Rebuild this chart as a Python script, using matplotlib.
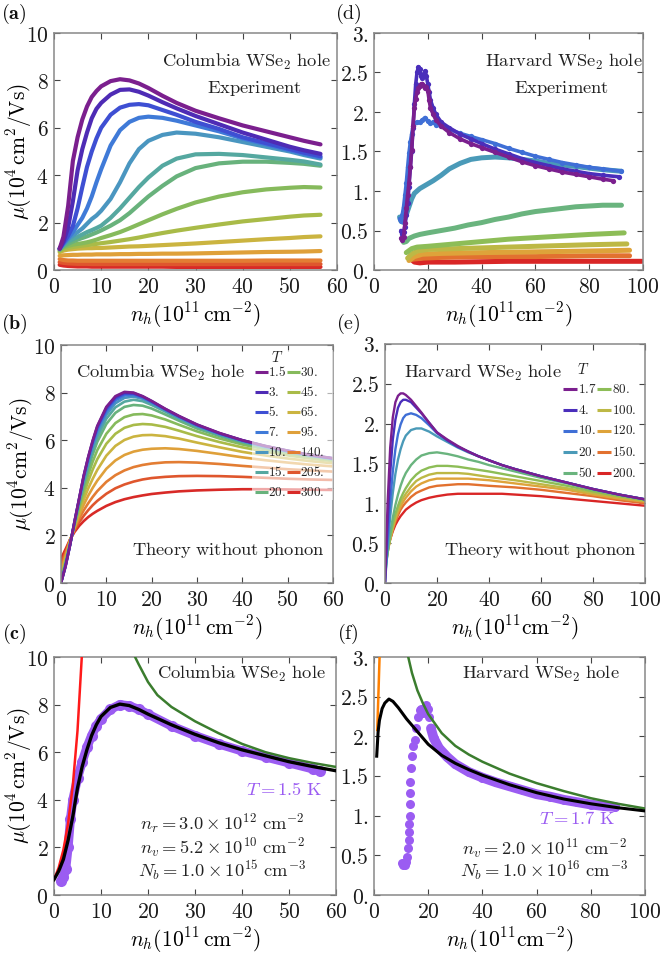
import matplotlib
matplotlib.use("Agg")
import matplotlib.pyplot as plt
from matplotlib.patches import Rectangle

plt.rcParams["mathtext.fontset"] = "cm"
plt.rcParams["font.family"] = ["DejaVu Serif"]

W, H = 662, 963

# ------------------------------------------------------------------ colours
col_T = ["1.5", "3.", "5.", "7.", "10.", "15.", "20.", "30.", "45.", "65.", "95.", "140.", "205.", "300."]
col_colors = ["#7b1f8e", "#4e2bb5", "#3e4fd3", "#3f7ad8", "#4a96c0", "#55a8a0", "#68b27c",
              "#86ba5c", "#a9bb48", "#cbb440", "#dfa03a", "#e37d33", "#df562d", "#d82a27"]
har_T = ["1.7", "4.", "10.", "20.", "50.", "80.", "100.", "120.", "150.", "200."]
har_colors = ["#7b1f8e", "#4a2ebb", "#3f6fd6", "#4a9ab8", "#6ab47e", "#8dbd57", "#bdb845",
              "#dea33a", "#e2712f", "#d92626"]

# ------------------------------------------------------------------ (a) Columbia experiment
n_a = [1.2, 2, 3, 4, 5, 6, 7, 8, 9, 10, 12, 14, 16, 18, 20, 23, 26, 30, 35, 40, 45, 50, 53, 56.5]
a_T1p5 = [0.9, 1.4, 2.7, 4.6, 5.6, 6.35, 6.9, 7.3, 7.55, 7.75, 7.97, 8.05, 8.0, 7.87, 7.68, 7.35, 7.05, 6.72, 6.4, 6.1, 5.85, 5.6, 5.45, 5.3]
a_T3 = [0.9, 1.2, 1.8, 2.9, 4.2, 5.1, 5.8, 6.4, 6.8, 7.05, 7.4, 7.6, 7.62, 7.52, 7.36, 7.08, 6.82, 6.5, 6.15, 5.8, 5.5, 5.2, 5.05, 4.9]
a_T5 = [0.9, 1.15, 1.45, 1.85, 2.6, 3.5, 4.35, 5.0, 5.55, 6.0, 6.55, 6.85, 6.97, 7.0, 6.95, 6.75, 6.55, 6.25, 5.95, 5.6, 5.35, 5.1, 4.95, 4.8]
a_T7 = [0.9, 1.1, 1.35, 1.6, 1.9, 2.2, 2.6, 3.1, 3.7, 4.25, 5.25, 5.9, 6.25, 6.42, 6.47, 6.42, 6.3, 6.1, 5.85, 5.55, 5.3, 5.05, 4.9, 4.75]
a_T10 = [0.9, 1.1, 1.3, 1.45, 1.6, 1.75, 1.95, 2.15, 2.3, 2.5, 3.0, 3.7, 4.5, 5.1, 5.45, 5.7, 5.8, 5.75, 5.6, 5.4, 5.2, 5.0, 4.85, 4.7]
a_T15 = [0.9, 1.05, 1.2, 1.3, 1.4, 1.5, 1.6, 1.68, 1.77, 1.87, 2.2, 2.6, 3.05, 3.5, 3.9, 4.4, 4.7, 4.88, 4.9, 4.85, 4.75, 4.65, 4.58, 4.45]
a_T20 = [0.85, 1.0, 1.1, 1.2, 1.28, 1.35, 1.42, 1.5, 1.58, 1.67, 1.87, 2.1, 2.4, 2.75, 3.1, 3.55, 3.95, 4.3, 4.5, 4.57, 4.57, 4.52, 4.48, 4.4]
a_T30 = [0.85, 0.95, 1.02, 1.07, 1.1, 1.13, 1.17, 1.22, 1.28, 1.35, 1.47, 1.6, 1.76, 1.93, 2.1, 2.35, 2.58, 2.85, 3.1, 3.28, 3.4, 3.47, 3.5, 3.48]
a_T45 = [0.8, 0.88, 0.93, 0.97, 1.0, 1.03, 1.05, 1.08, 1.1, 1.13, 1.18, 1.24, 1.3, 1.37, 1.45, 1.56, 1.66, 1.78, 1.92, 2.05, 2.15, 2.25, 2.3, 2.33]
a_T65 = [0.75, 0.82, 0.86, 0.88, 0.9, 0.91, 0.92, 0.92, 0.93, 0.93, 0.95, 0.97, 0.99, 1.0, 1.02, 1.05, 1.08, 1.12, 1.18, 1.24, 1.3, 1.35, 1.39, 1.42]
a_T95 = [0.6, 0.62, 0.63, 0.64, 0.64, 0.65, 0.65, 0.65, 0.66, 0.66, 0.66, 0.67, 0.67, 0.68, 0.68, 0.69, 0.69, 0.7, 0.72, 0.74, 0.76, 0.77, 0.78, 0.8]
a_T140 = [0.46, 0.42, 0.4, 0.4, 0.39, 0.39, 0.39, 0.39, 0.39, 0.39, 0.39, 0.39, 0.39, 0.39, 0.39, 0.39, 0.39, 0.39, 0.39, 0.39, 0.4, 0.4, 0.4, 0.4]
a_T205 = [0.33, 0.3, 0.28, 0.27, 0.26, 0.26, 0.26, 0.25, 0.25, 0.25, 0.25, 0.25, 0.25, 0.25, 0.25, 0.25, 0.25, 0.25, 0.25, 0.25, 0.25, 0.25, 0.25, 0.25]
a_T300 = [0.22, 0.19, 0.17, 0.16, 0.15, 0.15, 0.15, 0.14, 0.14, 0.14, 0.14, 0.14, 0.14, 0.14, 0.14, 0.14, 0.13, 0.13, 0.13, 0.13, 0.13, 0.13, 0.13, 0.13]
mu_a = [a_T1p5, a_T3, a_T5, a_T7, a_T10, a_T15, a_T20, a_T30, a_T45, a_T65, a_T95, a_T140, a_T205, a_T300]

# ------------------------------------------------------------------ (b) Columbia theory
n_b = [0, 1, 2, 3, 4, 5, 6, 7, 8, 10, 12, 14, 16, 18, 20, 23, 26, 30, 35, 40, 45, 50, 55, 60]
b_T1p5 = [0.0, 0.7, 1.6, 2.6, 3.55, 4.5, 5.3, 6.0, 6.6, 7.4, 7.85, 8.03, 8.0, 7.85, 7.65, 7.32, 7.02, 6.66, 6.3, 6.0, 5.76, 5.56, 5.38, 5.24]
b_T3 = [0.0, 0.7, 1.6, 2.6, 3.55, 4.5, 5.28, 5.97, 6.57, 7.37, 7.82, 8.0, 7.98, 7.84, 7.64, 7.31, 7.01, 6.65, 6.29, 6.0, 5.76, 5.56, 5.38, 5.24]
b_T5 = [0.0, 0.7, 1.6, 2.6, 3.53, 4.47, 5.25, 5.93, 6.52, 7.3, 7.76, 7.95, 7.95, 7.82, 7.62, 7.3, 7.0, 6.64, 6.28, 5.99, 5.75, 5.55, 5.37, 5.23]
b_T7 = [0.0, 0.72, 1.6, 2.58, 3.5, 4.42, 5.18, 5.85, 6.43, 7.2, 7.67, 7.88, 7.9, 7.79, 7.6, 7.28, 6.98, 6.62, 6.27, 5.98, 5.74, 5.54, 5.37, 5.23]
b_T10 = [0.0, 0.75, 1.62, 2.55, 3.45, 4.33, 5.08, 5.73, 6.3, 7.07, 7.55, 7.78, 7.83, 7.74, 7.56, 7.25, 6.95, 6.6, 6.25, 5.96, 5.73, 5.53, 5.36, 5.22]
b_T15 = [0.02, 0.78, 1.63, 2.53, 3.4, 4.22, 4.95, 5.58, 6.13, 6.9, 7.38, 7.62, 7.7, 7.64, 7.48, 7.2, 6.91, 6.56, 6.22, 5.94, 5.71, 5.52, 5.35, 5.21]
b_T20 = [0.05, 0.8, 1.65, 2.5, 3.32, 4.1, 4.8, 5.4, 5.93, 6.68, 7.15, 7.4, 7.48, 7.45, 7.33, 7.08, 6.82, 6.49, 6.17, 5.9, 5.68, 5.5, 5.33, 5.2]
b_T30 = [0.1, 0.85, 1.68, 2.47, 3.22, 3.92, 4.55, 5.1, 5.58, 6.27, 6.72, 6.97, 7.08, 7.1, 7.04, 6.87, 6.65, 6.37, 6.07, 5.82, 5.62, 5.44, 5.29, 5.17]
b_T45 = [0.18, 0.9, 1.7, 2.43, 3.1, 3.72, 4.28, 4.77, 5.2, 5.85, 6.27, 6.52, 6.64, 6.68, 6.66, 6.56, 6.4, 6.17, 5.92, 5.7, 5.52, 5.36, 5.23, 5.12]
b_T65 = [0.3, 1.0, 1.75, 2.4, 2.98, 3.5, 3.97, 4.38, 4.75, 5.35, 5.76, 6.01, 6.15, 6.21, 6.22, 6.17, 6.07, 5.9, 5.7, 5.51, 5.36, 5.23, 5.12, 5.03]
b_T95 = [0.45, 1.1, 1.78, 2.35, 2.85, 3.28, 3.67, 4.0, 4.3, 4.8, 5.15, 5.38, 5.52, 5.6, 5.64, 5.66, 5.63, 5.55, 5.42, 5.28, 5.16, 5.06, 4.97, 4.9]
b_T140 = [0.6, 1.2, 1.8, 2.3, 2.7, 3.05, 3.35, 3.62, 3.86, 4.25, 4.53, 4.73, 4.87, 4.96, 5.02, 5.07, 5.08, 5.06, 5.0, 4.92, 4.85, 4.78, 4.73, 4.68]
b_T205 = [0.8, 1.3, 1.82, 2.22, 2.55, 2.82, 3.06, 3.27, 3.45, 3.75, 3.98, 4.14, 4.26, 4.35, 4.41, 4.46, 4.49, 4.5, 4.49, 4.46, 4.42, 4.38, 4.35, 4.33]
b_T300 = [1.02, 1.42, 1.83, 2.15, 2.4, 2.6, 2.77, 2.91, 3.03, 3.24, 3.4, 3.52, 3.61, 3.68, 3.74, 3.8, 3.85, 3.89, 3.92, 3.94, 3.94, 3.93, 3.92, 3.91]
mu_b = [b_T1p5, b_T3, b_T5, b_T7, b_T10, b_T15, b_T20, b_T30, b_T45, b_T65, b_T95, b_T140, b_T205, b_T300]

# ------------------------------------------------------------------ (c) Columbia fit, T = 1.5 K
c_data_n = [1.5, 2.0, 2.5, 3.0, 3.5, 4.0, 5.0, 6.0, 7.0, 8.0, 9.0, 10, 12, 14, 16, 18, 20, 25, 30, 35, 40, 45, 50, 55, 56.5]
c_data_mu = [0.6, 0.75, 1.1, 2.0, 3.2, 4.0, 4.9, 5.6, 6.2, 6.7, 7.1, 7.4, 7.8, 8.0, 7.95, 7.8, 7.6, 7.1, 6.7, 6.35, 6.05, 5.8, 5.55, 5.3, 5.2]
c_red_n = [0, 1, 2, 3, 4, 5, 6]
c_red_mu = [0.65, 1.15, 1.9, 3.0, 4.6, 6.9, 10.3]
c_green_n = [17, 18, 20, 22, 25, 30, 35, 40, 45, 50, 55, 60]
c_green_mu = [10.1, 9.7, 8.95, 8.4, 7.9, 7.3, 6.8, 6.35, 6.0, 5.75, 5.55, 5.38]
c_black_n = [0, 1, 2, 3, 4, 5, 6, 7, 8, 9, 10, 12, 14, 16, 18, 20, 25, 30, 35, 40, 45, 50, 55, 60]
c_black_mu = [0.65, 1.0, 1.5, 2.3, 3.3, 4.5, 5.4, 6.1, 6.7, 7.15, 7.5, 7.88, 8.02, 7.96, 7.8, 7.6, 7.15, 6.75, 6.4, 6.1, 5.85, 5.6, 5.4, 5.22]

# ------------------------------------------------------------------ (d) Harvard experiment
d_n_T1p7 = [10.0, 10.5, 11.0, 11.5, 12.0, 12.5, 13.0, 13.5, 14.0, 14.5, 15.0, 15.5, 16.0, 16.5, 17.0, 17.5, 18.0, 18.5, 19.0, 19.5, 20.0, 20.5, 21.0, 22.0, 23.0, 25.0, 28.0, 32, 36, 40, 45, 50, 55, 60, 65, 70, 75, 80, 85, 89]
d_mu_T1p7 = [0.4, 0.38, 0.42, 0.6, 0.78, 0.95, 1.1, 1.3, 1.52, 1.82, 2.05, 2.17, 2.25, 2.3, 2.33, 2.35, 2.36, 2.33, 2.3, 2.32, 2.27, 2.15, 2.05, 1.97, 1.9, 1.82, 1.74, 1.66, 1.6, 1.55, 1.49, 1.43, 1.37, 1.32, 1.28, 1.24, 1.21, 1.18, 1.15, 1.13]
d_n_T4 = [10.0, 10.5, 11.0, 11.5, 12.0, 12.5, 13.0, 13.5, 14.0, 14.5, 15.0, 15.5, 16.0, 16.5, 17.0, 17.5, 18.0, 18.5, 19.0, 19.5, 20.0, 20.5, 21.0, 22.0, 23.0, 25.0, 28.0, 32, 36, 40, 45, 50, 55, 60, 65, 70, 75, 80, 85, 91]
d_mu_T4 = [0.5, 0.45, 0.48, 0.55, 0.7, 0.85, 1.05, 1.3, 1.5, 1.8, 2.1, 2.35, 2.5, 2.57, 2.55, 2.45, 2.43, 2.48, 2.52, 2.45, 2.35, 2.25, 2.15, 2.05, 1.97, 1.87, 1.8, 1.72, 1.66, 1.6, 1.53, 1.47, 1.41, 1.36, 1.32, 1.28, 1.25, 1.22, 1.2, 1.18]
d_n_T10 = [9.5, 10, 10.5, 11, 11.5, 12, 12.5, 13, 13.5, 14, 14.5, 15, 16, 17, 18, 19, 20, 21, 22, 23, 25, 28, 32, 36, 40, 45, 50, 55, 60, 65, 70, 75, 80, 85, 92]
d_mu_T10 = [0.65, 0.62, 0.7, 0.8, 0.95, 1.1, 1.3, 1.48, 1.62, 1.72, 1.82, 1.86, 1.87, 1.87, 1.9, 1.93, 1.88, 1.86, 1.87, 1.84, 1.82, 1.78, 1.73, 1.69, 1.65, 1.6, 1.54, 1.49, 1.44, 1.4, 1.36, 1.33, 1.3, 1.28, 1.25]
d_n_T20 = [9.5, 10, 11, 12, 13, 14, 15, 16, 17, 18, 20, 22, 25, 28, 32, 36, 40, 45, 50, 55, 60, 65, 70, 75, 80, 85, 92]
d_mu_T20 = [0.67, 0.62, 0.6, 0.7, 0.8, 0.9, 0.97, 1.0, 1.03, 1.05, 1.09, 1.13, 1.2, 1.28, 1.35, 1.4, 1.42, 1.43, 1.42, 1.4, 1.38, 1.35, 1.33, 1.31, 1.29, 1.27, 1.25]
d_n_T50 = [11, 12, 13, 15, 17, 20, 25, 30, 35, 40, 45, 50, 55, 60, 65, 70, 75, 80, 85, 92]
d_mu_T50 = [0.35, 0.36, 0.4, 0.43, 0.45, 0.47, 0.5, 0.53, 0.57, 0.6, 0.64, 0.67, 0.71, 0.74, 0.76, 0.78, 0.8, 0.81, 0.82, 0.82]
d_n_T80 = [12, 14, 16, 20, 30, 40, 50, 60, 70, 80, 93]
d_mu_T80 = [0.22, 0.27, 0.29, 0.3, 0.33, 0.36, 0.39, 0.41, 0.43, 0.45, 0.47]
d_n_T100 = [12.5, 14, 16, 20, 30, 40, 50, 60, 70, 80, 94]
d_mu_T100 = [0.15, 0.2, 0.24, 0.26, 0.27, 0.28, 0.29, 0.3, 0.31, 0.32, 0.33]
d_n_T120 = [13, 15, 18, 25, 40, 60, 80, 95]
d_mu_T120 = [0.12, 0.17, 0.2, 0.21, 0.22, 0.23, 0.24, 0.25]
d_n_T150 = [13.5, 15, 18, 25, 40, 60, 80, 95]
d_mu_T150 = [0.13, 0.14, 0.15, 0.16, 0.17, 0.17, 0.18, 0.18]
d_n_T200 = [14, 15, 17, 20, 30, 50, 70, 90, 99.5]
d_mu_T200 = [0.13, 0.1, 0.09, 0.1, 0.1, 0.11, 0.11, 0.11, 0.11]
n_d = [d_n_T1p7, d_n_T4, d_n_T10, d_n_T20, d_n_T50, d_n_T80, d_n_T100, d_n_T120, d_n_T150, d_n_T200]
mu_d = [d_mu_T1p7, d_mu_T4, d_mu_T10, d_mu_T20, d_mu_T50, d_mu_T80, d_mu_T100, d_mu_T120, d_mu_T150, d_mu_T200]

# ------------------------------------------------------------------ (e) Harvard theory
n_e = [0, 1, 2, 3, 4, 5, 6, 7, 8, 10, 12, 14, 17, 20, 24, 28, 32, 36, 40, 45, 50, 60, 70, 80, 90, 100]
e_T1p7 = [0.0, 1.0, 1.7, 2.08, 2.27, 2.35, 2.38, 2.38, 2.36, 2.3, 2.22, 2.14, 2.01, 1.89, 1.8, 1.72, 1.65, 1.59, 1.54, 1.48, 1.43, 1.34, 1.26, 1.18, 1.11, 1.05]
e_T4 = [0.0, 0.75, 1.38, 1.8, 2.05, 2.2, 2.27, 2.3, 2.3, 2.27, 2.2, 2.13, 2.01, 1.89, 1.79, 1.71, 1.65, 1.59, 1.54, 1.48, 1.43, 1.34, 1.26, 1.18, 1.11, 1.05]
e_T10 = [0.0, 0.55, 1.02, 1.4, 1.68, 1.87, 1.99, 2.07, 2.11, 2.13, 2.11, 2.07, 1.98, 1.88, 1.79, 1.71, 1.65, 1.59, 1.54, 1.48, 1.43, 1.34, 1.26, 1.18, 1.11, 1.05]
e_T20 = [0.0, 0.45, 0.83, 1.13, 1.37, 1.55, 1.68, 1.78, 1.85, 1.92, 1.94, 1.94, 1.9, 1.84, 1.77, 1.7, 1.64, 1.59, 1.54, 1.48, 1.43, 1.34, 1.26, 1.18, 1.11, 1.05]
e_T50 = [0.1, 0.38, 0.62, 0.82, 0.98, 1.11, 1.22, 1.31, 1.38, 1.48, 1.55, 1.6, 1.63, 1.64, 1.62, 1.59, 1.55, 1.52, 1.48, 1.44, 1.4, 1.32, 1.25, 1.17, 1.11, 1.05]
e_T80 = [0.15, 0.38, 0.58, 0.74, 0.87, 0.97, 1.06, 1.13, 1.19, 1.29, 1.36, 1.41, 1.45, 1.47, 1.47, 1.46, 1.44, 1.42, 1.4, 1.37, 1.34, 1.28, 1.22, 1.15, 1.09, 1.04]
e_T100 = [0.18, 0.38, 0.56, 0.71, 0.83, 0.93, 1.01, 1.07, 1.12, 1.21, 1.28, 1.32, 1.36, 1.38, 1.38, 1.38, 1.37, 1.35, 1.33, 1.31, 1.29, 1.24, 1.19, 1.13, 1.08, 1.03]
e_T120 = [0.22, 0.39, 0.55, 0.69, 0.8, 0.89, 0.96, 1.02, 1.07, 1.15, 1.21, 1.25, 1.29, 1.31, 1.31, 1.31, 1.31, 1.3, 1.29, 1.27, 1.25, 1.21, 1.17, 1.11, 1.06, 1.02]
e_T150 = [0.26, 0.41, 0.55, 0.67, 0.77, 0.85, 0.92, 0.97, 1.01, 1.08, 1.13, 1.16, 1.2, 1.22, 1.23, 1.24, 1.24, 1.23, 1.22, 1.21, 1.2, 1.17, 1.13, 1.09, 1.04, 1.0]
e_T200 = [0.3, 0.43, 0.55, 0.65, 0.73, 0.79, 0.84, 0.88, 0.92, 0.97, 1.01, 1.04, 1.07, 1.09, 1.11, 1.12, 1.12, 1.12, 1.12, 1.12, 1.11, 1.09, 1.06, 1.03, 1.0, 0.97]
mu_e = [e_T1p7, e_T4, e_T10, e_T20, e_T50, e_T80, e_T100, e_T120, e_T150, e_T200]

# ------------------------------------------------------------------ (f) Harvard fit, T = 1.7 K
f_data_n = [10.2, 10.8, 11.3, 11.8, 12.2, 12.6, 12.8, 12.9, 13.0, 13.1, 13.2, 13.3, 13.4, 13.6, 13.9, 14.4, 15.0, 15.6, 16.2, 16.8, 17.4, 18.0, 18.6, 19.2, 19.8, 20.4, 21.0, 22, 24, 27, 30, 35, 40, 45, 50, 55, 60, 65, 70, 75, 80, 85, 89]
f_data_mu = [0.4, 0.38, 0.38, 0.42, 0.48, 0.59, 0.69, 0.8, 0.9, 1.0, 1.15, 1.28, 1.43, 1.6, 1.75, 1.88, 1.95, 2.1, 2.25, 2.33, 2.35, 2.3, 2.35, 2.4, 2.35, 2.25, 2.1, 1.98, 1.85, 1.74, 1.65, 1.55, 1.48, 1.42, 1.37, 1.32, 1.27, 1.24, 1.2, 1.17, 1.14, 1.12, 1.11]
f_orange_n = [1.2, 1.6, 2.1]
f_orange_mu = [2.08, 2.5, 3.05]
f_green_n = [12.5, 14, 16, 18, 20, 25, 30, 35, 40, 50, 60, 70, 80, 90, 100]
f_green_mu = [3.02, 2.8, 2.58, 2.42, 2.28, 2.04, 1.88, 1.77, 1.68, 1.53, 1.41, 1.31, 1.22, 1.15, 1.09]
f_black_n = [1.0, 1.5, 2, 3, 4, 5.5, 7, 9, 12, 15, 20, 25, 30, 35, 40, 50, 60, 70, 80, 90, 100]
f_black_mu = [1.75, 2.05, 2.2, 2.35, 2.42, 2.47, 2.44, 2.36, 2.22, 2.1, 1.9, 1.76, 1.66, 1.58, 1.51, 1.39, 1.29, 1.21, 1.15, 1.1, 1.06]

# ------------------------------------------------------------------ figure
fig = plt.figure(figsize=(W / 100, H / 100), dpi=100)

FS_TICK = 15.5
FS_LAB = 15.5
FS_NOTE = 13.3
FS_LEG = 9.5


def fx(px):
    return px / W


def fy(py):
    return 1 - py / H


def make_axes(l, t, r, b):
    return fig.add_axes([fx(l), fy(b), (r - l) / W, (b - t) / H])


def style(ax, xlim, ylim, xticks, yticks, yticklabels):
    ax.set_xlim(*xlim)
    ax.set_ylim(*ylim)
    ax.set_xticks(xticks)
    ax.set_xticklabels([f"${t}$" for t in xticks])
    ax.set_yticks(yticks)
    ax.set_yticklabels([f"${t}$" for t in yticklabels])
    ax.tick_params(direction="in", top=True, right=True, length=4.5, width=0.8,
                   color="#444444", labelsize=FS_TICK, pad=4, labelcolor="#1a1a1a")
    for sp in ax.spines.values():
        sp.set_color("#888888")
        sp.set_linewidth(1.1)


def note(x, y, s, color="#222222", size=FS_NOTE, ha="center"):
    fig.text(fx(x), fy(y), s, color=color, fontsize=size, ha=ha, va="center")


def legend(ax, labels, colors, col_x, row_y0, dy, nrows, seg, title_xy, box=None):
    if box is not None:
        l, t, r, b = box
        ax.add_patch(Rectangle((fx(l), fy(b)), (r - l) / W, (b - t) / H, transform=fig.transFigure,
                               facecolor="white", alpha=0.6, edgecolor="none", zorder=5))
    for i, (lab, c) in enumerate(zip(labels, colors)):
        x = col_x[i // nrows]
        y = row_y0 + (i % nrows) * dy
        ax.plot([fx(x), fx(x + seg)], [fy(y), fy(y)], transform=fig.transFigure, color=c, lw=2.2,
                solid_capstyle="butt", clip_on=False, zorder=6)
        ax.text(fx(x + seg + 0.5), fy(y), f"${lab}$", transform=fig.transFigure, fontsize=FS_LEG,
                ha="left", va="center", color="#222222", zorder=7)
    ax.text(fx(title_xy[0]), fy(title_xy[1]), "$T$", transform=fig.transFigure, fontsize=FS_LEG + 1,
            ha="center", va="center", color="#222222", zorder=7)


def ylabel(ax, text, right_px, l, r):
    ax.set_ylabel(text, fontsize=FS_LAB)
    ax.yaxis.set_label_coords((right_px - l) / (r - l), 0.5)


xlab_col = r"$n_h(10^{11}\,\mathrm{cm}^{-2})$"
xlab_har = r"$n_h(10^{11}\mathrm{cm}^{-2})$"
har_yt = [0, 0.5, 1, 1.5, 2, 2.5, 3]
har_ytl = ["0.", "0.5", "1.", "1.5", "2.", "2.5", "3."]

# (a)
ax_a = make_axes(54, 33, 337, 270)
for mu, c in zip(mu_a[::-1], col_colors[::-1]):
    ax_a.plot(n_a, mu, color=c, lw=3.0, solid_capstyle="round", solid_joinstyle="round")
style(ax_a, (0, 60), (0, 10), [0, 10, 20, 30, 40, 50, 60], [0, 2, 4, 6, 8, 10], [0, 2, 4, 6, 8, 10])
ax_a.set_xlabel(xlab_col, fontsize=FS_LAB, labelpad=2)
ylabel(ax_a, r"$\mu(10^4\,\mathrm{cm}^2/\mathrm{Vs})$", 34, 54, 337)
note(246, 62, r"$\mathrm{Columbia\ WSe_2\ hole}$")
note(255, 88, r"$\mathrm{Experiment}$")

# (b)
ax_b = make_axes(61, 345, 333, 583)
for mu, c in zip(mu_b[::-1], col_colors[::-1]):
    ax_b.plot(n_b, mu, color=c, lw=1.9)
style(ax_b, (0, 60), (0, 10), [0, 10, 20, 30, 40, 50, 60], [0, 2, 4, 6, 8, 10], [0, 2, 4, 6, 8, 10])
ax_b.set_xlabel(xlab_col, fontsize=FS_LAB, labelpad=2)
ylabel(ax_b, r"$\mu(10^4\mathrm{cm}^2/\mathrm{Vs})$", 36, 61, 333)
note(160, 373, r"$\mathrm{Columbia\ WSe_2\ hole}$")
note(228, 550, r"$\mathrm{Theory\ without\ phonon}$")
legend(ax_b, col_T, col_colors, [255, 287], 372, 20, 7, 13, (277, 357), box=(252, 350, 333, 500))

# (c)
ax_c = make_axes(54, 657, 336, 895)
ax_c.plot(c_data_n, c_data_mu, color="#9b5cf2", lw=6.5, marker="o", ms=8, mec="none",
          solid_capstyle="round", solid_joinstyle="round", zorder=2)
ax_c.plot(c_red_n, c_red_mu, color="#ff1a1a", lw=1.8, zorder=3)
ax_c.plot(c_green_n, c_green_mu, color="#3b7d2e", lw=1.8, zorder=3)
ax_c.plot(c_black_n, c_black_mu, color="black", lw=2.4, zorder=4)
style(ax_c, (0, 60), (0, 10), [0, 10, 20, 30, 40, 50, 60], [0, 2, 4, 6, 8, 10], [0, 2, 4, 6, 8, 10])
ax_c.set_xlabel(xlab_col, fontsize=FS_LAB, labelpad=2)
ylabel(ax_c, r"$\mu(10^4\,\mathrm{cm}^2/\mathrm{Vs})$", 34, 54, 336)
note(241, 674, r"$\mathrm{Columbia\ WSe_2\ hole}$")
note(284, 790, r"$T = 1.5\ \mathrm{K}$", color="#9b5cf2")
note(222, 823, r"$n_r = 3.0\times 10^{12}\ \mathrm{cm}^{-2}$")
note(222, 847, r"$n_v = 5.2\times 10^{10}\ \mathrm{cm}^{-2}$")
note(222, 870, r"$N_b = 1.0\times 10^{15}\ \mathrm{cm}^{-3}$")

# (d)
ax_d = make_axes(374, 33, 643, 270)
for i in range(len(mu_d) - 1, -1, -1):
    mk = dict(marker="o", ms=3.8, mec="none") if i < 3 else {}
    ax_d.plot(n_d[i], mu_d[i], color=har_colors[i], lw=3.6 if i >= 3 else 2.6,
              solid_capstyle="round", solid_joinstyle="round", **mk)
style(ax_d, (0, 100), (0, 3), [0, 20, 40, 60, 80, 100], har_yt, har_ytl)
ax_d.set_xlabel(xlab_har, fontsize=FS_LAB, labelpad=2)
note(564, 62, r"$\mathrm{Harvard\ WSe_2\ hole}$")
note(562, 88, r"$\mathrm{Experiment}$")

# (e)
ax_e = make_axes(385, 344, 645, 583)
for mu, c in zip(mu_e[::-1], har_colors[::-1]):
    ax_e.plot(n_e, mu, color=c, lw=1.7)
style(ax_e, (0, 100), (0, 3), [0, 20, 40, 60, 80, 100], har_yt, har_ytl)
ax_e.set_xlabel(xlab_har, fontsize=FS_LAB, labelpad=2)
note(483, 373, r"$\mathrm{Harvard\ WSe_2\ hole}$")
note(540, 550, r"$\mathrm{Theory\ without\ phonon}$")
legend(ax_e, har_T, har_colors, [563, 597], 389, 21, 5, 14, (583, 370))

# (f)
ax_f = make_axes(374, 657, 645, 895)
ax_f.plot(f_data_n, f_data_mu, color="#9b5cf2", lw=0, marker="o", ms=6.5, mec="none", zorder=2)
ax_f.plot(f_data_n[26:], f_data_mu[26:], color="#9b5cf2", lw=7, solid_capstyle="round", zorder=2)
ax_f.plot(f_orange_n, f_orange_mu, color="#ff8000", lw=1.8, zorder=3)
ax_f.plot(f_green_n, f_green_mu, color="#3b7d2e", lw=1.8, zorder=3)
ax_f.plot(f_black_n, f_black_mu, color="black", lw=2.2, zorder=4)
style(ax_f, (0, 100), (0, 3), [0, 20, 40, 60, 80, 100], har_yt, har_ytl)
ax_f.set_xlabel(xlab_har, fontsize=FS_LAB, labelpad=2)
note(541, 674, r"$\mathrm{Harvard\ WSe_2\ hole}$")
note(577, 819, r"$T = 1.7\ \mathrm{K}$", color="#9b5cf2")
note(544, 848, r"$n_v = 2.0\times 10^{11}\ \mathrm{cm}^{-2}$")
note(544, 870, r"$N_b = 1.0\times 10^{16}\ \mathrm{cm}^{-3}$")

# panel tags
for tag, x, y in [(r"$\mathbf{(a)}$", 14, 14), (r"$\mathbf{(b)}$", 14, 324), (r"$\mathbf{(c)}$", 14, 634),
                  (r"$\mathrm{(d)}$", 348, 14), (r"$\mathrm{(e)}$", 348, 324), (r"$\mathrm{(f)}$", 348, 634)]:
    note(x, y, tag, color="#111111", size=14.5)

fig.savefig("out.png", dpi=100)
